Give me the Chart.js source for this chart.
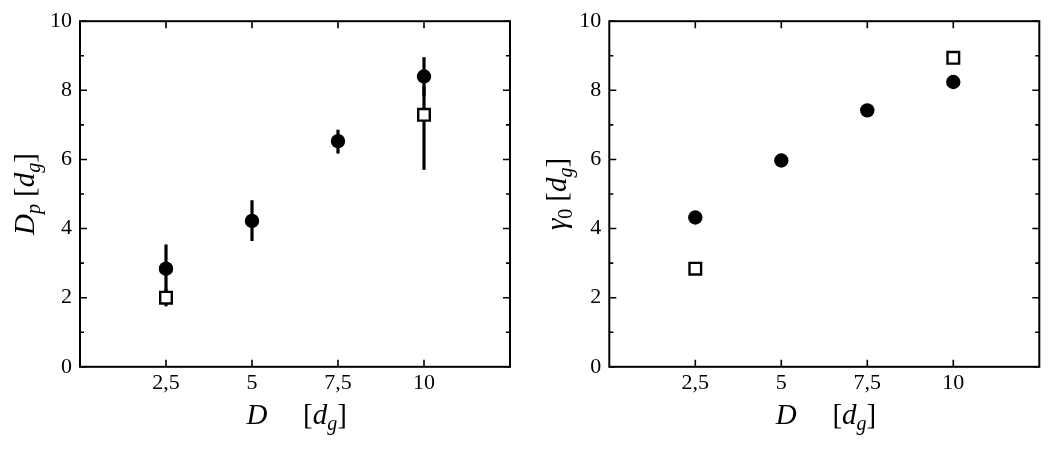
<!DOCTYPE html>
<html>
<head>
<meta charset="utf-8">
<script src="https://cdn.jsdelivr.net/npm/chart.js@4/dist/chart.umd.min.js"></script>
<style>
  html, body { margin: 0; padding: 0; background: #fff; }
  #wrap { position: relative; width: 1050px; height: 450px; }
  canvas { position: absolute; top: 0; }
</style>
</head>
<body>
<div id="wrap">
  <canvas id="c1" width="525" height="450" style="left:0px"></canvas>
  <canvas id="c2" width="525" height="450" style="left:525px"></canvas>
</div>
<script>
// ---------- data ----------
const xTicks = [2.5, 5, 7.5, 10];
const xTickLabels = ['2,5', '5', '7,5', '10'];
const yTicks = [0, 2, 4, 6, 8, 10];
const yMinorTicks = [1, 3, 5, 7, 9];

// left panel: D_p
const dpCircleX = [2.5, 5, 7.5, 10];
const dpCircleY = [2.84, 4.22, 6.53, 8.40];
const dpCircleLo = [2.05, 3.64, 6.17, 7.84];
const dpCircleHi = [3.54, 4.82, 6.86, 8.96];
const dpSquareX = [2.5, 10];
const dpSquareY = [2.00, 7.29];
const dpSquareLo = [1.75, 5.70];
const dpSquareHi = [2.25, 8.10];

// right panel: gamma_0
const g0CircleX = [2.5, 5, 7.5, 10];
const g0CircleY = [4.32, 5.97, 7.42, 8.24];
const g0SquareX = [2.5, 10];
const g0SquareY = [2.84, 8.94];

// ---------- helpers ----------
const SERIF = '"Liberation Serif", "DejaVu Serif", serif';
const TITLE_SIZE = 29;
function pts(xs, ys) { return xs.map((x, i) => ({ x: x, y: ys[i] })); }

function drawRich(ctx, segs, x, y, size) {
  const subSize = Math.round(size * 0.7);
  let total = 0;
  const widths = segs.map(s => {
    ctx.font = (s.it ? 'italic ' : '') + (s.sub ? subSize : size) + 'px ' + SERIF;
    const w = ctx.measureText(s.t).width + (s.gap || 0);
    total += w;
    return w;
  });
  let cx = x - total / 2;
  ctx.textBaseline = 'alphabetic';
  ctx.textAlign = 'left';
  ctx.fillStyle = '#000';
  segs.forEach((s, i) => {
    ctx.font = (s.it ? 'italic ' : '') + (s.sub ? subSize : size) + 'px ' + SERIF;
    ctx.fillText(s.t, cx, y + (s.sub ? size * 0.22 : 0));
    cx += widths[i];
  });
}

const framePlugin = {
  id: 'frame',
  afterDraw(chart) {
    const { ctx, chartArea: a, scales } = chart;
    ctx.save();
    ctx.strokeStyle = '#000';
    ctx.lineWidth = 2;
    ctx.strokeRect(a.left, a.top, a.right - a.left, a.bottom - a.top);
    ctx.lineWidth = 1.6;
    ctx.beginPath();
    xTicks.forEach(v => {
      const px = scales.x.getPixelForValue(v);
      ctx.moveTo(px, a.bottom); ctx.lineTo(px, a.bottom - 7);
      ctx.moveTo(px, a.top); ctx.lineTo(px, a.top + 7);
    });
    yTicks.forEach(v => {
      const py = scales.y.getPixelForValue(v);
      ctx.moveTo(a.left, py); ctx.lineTo(a.left + 7, py);
      ctx.moveTo(a.right, py); ctx.lineTo(a.right - 7, py);
    });
    yMinorTicks.forEach(v => {
      const py = scales.y.getPixelForValue(v);
      ctx.moveTo(a.left, py); ctx.lineTo(a.left + 4, py);
      ctx.moveTo(a.right, py); ctx.lineTo(a.right - 4, py);
    });
    ctx.stroke();

    // titles
    const opt = chart.options.plugins.frame;
    drawRich(ctx, [{ t: 'D', it: true }], a.left + 177, 424, TITLE_SIZE);
    drawRich(ctx, [{ t: '[' }, { t: 'd', it: true }, { t: 'g', it: true, sub: true }, { t: ']' }], a.left + 245, 424, TITLE_SIZE);
    ctx.save();
    ctx.translate(opt.yTitleX, (a.top + a.bottom) / 2);
    ctx.rotate(-Math.PI / 2);
    drawRich(ctx, opt.yTitle, 0, 0, TITLE_SIZE);
    ctx.restore();
    ctx.restore();
  }
};

const errorPlugin = {
  id: 'errbars',
  beforeDatasetsDraw(chart) {
    const { ctx, scales } = chart;
    const bars = chart.options.plugins.errbars.bars || [];
    ctx.save();
    ctx.strokeStyle = '#000';
    ctx.lineWidth = 3.2;
    ctx.lineCap = 'butt';
    bars.forEach(b => {
      b.x.forEach((xv, i) => {
        const px = scales.x.getPixelForValue(xv);
        ctx.beginPath();
        ctx.moveTo(px, scales.y.getPixelForValue(b.lo[i]));
        ctx.lineTo(px, scales.y.getPixelForValue(b.hi[i]));
        ctx.stroke();
      });
    });
    ctx.restore();
  }
};

function makeChart(id, circleX, circleY, squareX, squareY, bars, yTitle, yTitleX, padLeft, padRight, yWidth) {
  return new Chart(document.getElementById(id), {
    type: 'scatter',
    data: {
      datasets: [
        {
          data: pts(squareX, squareY),
          pointStyle: 'rect',
          pointRadius: 8.2,
          pointBackgroundColor: '#fff',
          pointBorderColor: '#000',
          pointBorderWidth: 2.4,
          order: 2
        },
        {
          data: pts(circleX, circleY),
          pointStyle: 'circle',
          pointRadius: 7.2,
          pointBackgroundColor: '#000',
          pointBorderColor: '#000',
          pointBorderWidth: 0,
          order: 1
        }
      ]
    },
    options: {
      responsive: false,
      animation: false,
      devicePixelRatio: 1,
      layout: { padding: { top: 20.5, bottom: 0, left: padLeft, right: padRight } },
      plugins: {
        legend: { display: false },
        tooltip: { enabled: false },
        frame: { yTitle: yTitle, yTitleX: yTitleX },
        errbars: { bars: bars }
      },
      scales: {
        x: {
          type: 'linear', min: 0, max: 12.5,
          afterBuildTicks(scale) { scale.ticks = xTicks.map(v => ({ value: v })); },
          afterFit(scale) { scale.height = 83.2; },
          ticks: {
            autoSkip: false, maxRotation: 0, padding: 3, color: '#000',
            font: { family: SERIF, size: 22 },
            callback(v) { const i = xTicks.indexOf(v); return i >= 0 ? xTickLabels[i] : ''; }
          },
          grid: { display: false, drawTicks: false },
          border: { display: false }
        },
        y: {
          type: 'linear', min: 0, max: 10,
          afterBuildTicks(scale) { scale.ticks = yTicks.map(v => ({ value: v })); },
          afterFit(scale) { scale.width = yWidth; },
          ticks: {
            padding: 8, color: '#000',
            font: { family: SERIF, size: 22 }
          },
          grid: { display: false, drawTicks: false },
          border: { display: false }
        }
      }
    },
    plugins: [errorPlugin, framePlugin]
  });
}

makeChart('c1', dpCircleX, dpCircleY, dpSquareX, dpSquareY,
  [{ x: dpCircleX, lo: dpCircleLo, hi: dpCircleHi }, { x: dpSquareX, lo: dpSquareLo, hi: dpSquareHi }],
  [{ t: 'D', it: true }, { t: 'p', it: true, sub: true, gap: 7 }, { t: '[' }, { t: 'd', it: true }, { t: 'g', it: true, sub: true }, { t: ']' }],
  34, 0, 15, 80);

makeChart('c2', g0CircleX, g0CircleY, g0SquareX, g0SquareY,
  [],
  [{ t: 'γ', it: true }, { t: '0', sub: true, gap: 7 }, { t: '[' }, { t: 'd', it: true }, { t: 'g', it: true, sub: true }, { t: ']' }],
  41, 0, 10.7, 84.3);
</script>
</body>
</html>
